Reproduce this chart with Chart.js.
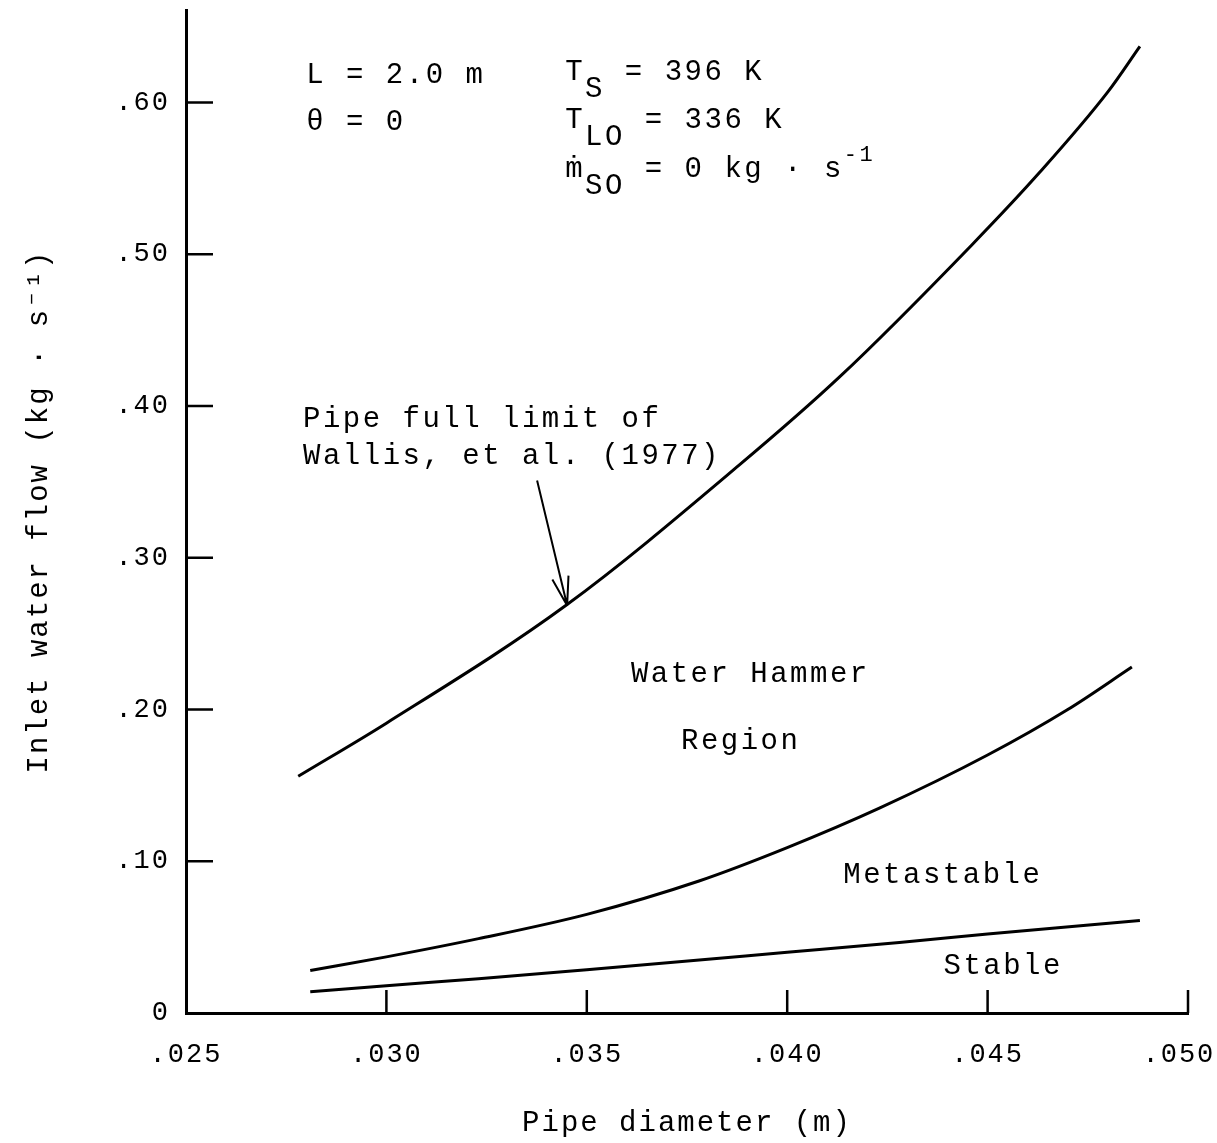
<!DOCTYPE html>
<html>
<head>
<meta charset="utf-8">
<script src="https://cdn.jsdelivr.net/npm/chart.js@4.4.1/dist/chart.umd.min.js"></script>
<style>
  html, body { margin: 0; padding: 0; background: #fff; }
</style>
</head>
<body>
<canvas id="chart" width="1217" height="1143"></canvas>
<script>
// Pipe full limit of Wallis et al. (1977)
var fullDiam = [0.0278, 0.0300, 0.0345, 0.0388, 0.0413, 0.0446, 0.0463, 0.0480, 0.0488];
var fullFlow = [0.156, 0.191, 0.269, 0.361, 0.419, 0.506, 0.554, 0.607, 0.637];

// Water hammer / metastable boundary
var metaDiam = [0.0281, 0.0300, 0.0323, 0.0350, 0.0378, 0.0400, 0.0423, 0.0450, 0.0470, 0.0486];
var metaFlow = [0.028, 0.037, 0.049, 0.065, 0.087, 0.109, 0.135, 0.170, 0.200, 0.228];

// Metastable / stable boundary
var stableDiam = [0.0281, 0.0300, 0.0323, 0.0350, 0.0400, 0.0428, 0.0450, 0.0488];
var stableFlow = [0.014, 0.018, 0.0225, 0.0285, 0.040, 0.0465, 0.052, 0.061];

// tick values
var xTicks = [0.025, 0.030, 0.035, 0.040, 0.045, 0.050];
var yTicks = [0, 0.10, 0.20, 0.30, 0.40, 0.50, 0.60];

// text notes: [text, shift] with 1 = subscript, -1 = superscript
var notes = [
    { parts: [['L = 2.0 m', 0]], d: 0.0280, f: 0.618 },
    { parts: [['\u03B8 = 0', 0]], d: 0.0280, f: 0.587 },
    { parts: [['T', 0], ['S', 1], [' = 396 K', 0]], d: 0.03446, f: 0.620 },
    { parts: [['T', 0], ['LO', 1], [' = 336 K', 0]], d: 0.03446, f: 0.588 },
    { parts: [['\u1E41', 0], ['SO', 1], [' = 0 kg \u00B7 s', 0], ['-1', -1]], d: 0.03446, f: 0.556 },
    { parts: [['Pipe full limit of', 0]], d: 0.02792, f: 0.391 },
    { parts: [['Wallis, et al. (1977)', 0]], d: 0.02792, f: 0.367 },
    { parts: [['Water Hammer', 0]], d: 0.03610, f: 0.223 },
    { parts: [['Region', 0]], d: 0.03735, f: 0.179 },
    { parts: [['Metastable', 0]], d: 0.04140, f: 0.091 },
    { parts: [['Stable', 0]], d: 0.04390, f: 0.031 }
];
var arrowFrom = [0.03376, 0.351];
var arrowTo = [0.03451, 0.2685];

var FONT = "'Liberation Mono', 'DejaVu Sans Mono', monospace";

function toPoints(xs, ys) {
    var pts = [];
    for (var i = 0; i < xs.length; i++) pts.push({ x: xs[i], y: ys[i] });
    return pts;
}

function curve(label, xs, ys) {
    return {
        label: label,
        data: toPoints(xs, ys),
        showLine: true,
        borderColor: '#000',
        borderWidth: 3,
        pointRadius: 0,
        cubicInterpolationMode: 'monotone',
        fill: false
    };
}

// inward tick marks, typewriter spacing, notes and arrow
var paperPlugin = {
    id: 'paper',
    beforeDraw: function (chart) {
        chart.ctx.letterSpacing = '2px';
    },
    afterDraw: function (chart) {
        var ctx = chart.ctx;
        var xs = chart.scales.x, ys = chart.scales.y, area = chart.chartArea;

        ctx.save();
        ctx.strokeStyle = '#000';
        ctx.lineWidth = 2.5;
        ctx.beginPath();
        xTicks.forEach(function (v) {
            if (v === xs.min) return;
            var px = xs.getPixelForValue(v);
            ctx.moveTo(px, area.bottom);
            ctx.lineTo(px, area.bottom - 23);
        });
        yTicks.forEach(function (v) {
            if (v === 0) return;
            var py = ys.getPixelForValue(v);
            ctx.moveTo(area.left, py);
            ctx.lineTo(area.left + 27, py);
        });
        ctx.stroke();

        // notes
        ctx.fillStyle = '#000';
        ctx.textBaseline = 'middle';
        ctx.textAlign = 'left';
        ctx.letterSpacing = '2.5px';
        notes.forEach(function (n) {
            var x = xs.getPixelForValue(n.d);
            var y = ys.getPixelForValue(n.f);
            n.parts.forEach(function (p) {
                var dy = 0;
                if (p[1] === 1) { ctx.font = '29px ' + FONT; dy = 17; }
                else if (p[1] === -1) { ctx.font = '22px ' + FONT; dy = -14; }
                else ctx.font = '29px ' + FONT;
                ctx.fillText(p[0], x, y + dy);
                x += ctx.measureText(p[0]).width;
            });
        });

        // arrow to the pipe full curve
        var x0 = xs.getPixelForValue(arrowFrom[0]), y0 = ys.getPixelForValue(arrowFrom[1]);
        var x1 = xs.getPixelForValue(arrowTo[0]), y1 = ys.getPixelForValue(arrowTo[1]);
        var ang = Math.atan2(y1 - y0, x1 - x0);
        ctx.lineWidth = 2;
        ctx.beginPath();
        ctx.moveTo(x0, y0);
        ctx.lineTo(x1, y1);
        [-0.28, 0.28].forEach(function (a) {
            ctx.moveTo(x1, y1);
            ctx.lineTo(x1 - 30 * Math.cos(ang + a), y1 - 30 * Math.sin(ang + a));
        });
        ctx.stroke();
        ctx.restore();
    }
};

Chart.defaults.font.family = FONT;
Chart.defaults.color = '#000';

var ctx = document.getElementById('chart').getContext('2d');
var myChart = new Chart(ctx, {
    type: 'scatter',
    data: {
        datasets: [
            curve('Pipe full limit', fullDiam, fullFlow),
            curve('Water hammer boundary', metaDiam, metaFlow),
            curve('Stable boundary', stableDiam, stableFlow)
        ]
    },
    options: {
        responsive: false,
        animation: false,
        devicePixelRatio: 1,
        layout: { padding: { top: 10, right: 29, left: 0, bottom: 0 } },
        plugins: {
            legend: { display: false },
            tooltip: { enabled: false },
            title: { display: false }
        },
        scales: {
            x: {
                type: 'linear',
                min: 0.025,
                max: 0.050,
                afterFit: function (s) {
                    s.height = 130;
                    s.paddingLeft = 0;
                    s.paddingRight = 0;
                },
                afterBuildTicks: function (s) {
                    s.ticks = xTicks.map(function (v) { return { value: v }; });
                },
                grid: { display: false, drawTicks: false },
                border: { display: true, color: '#000', width: 3 },
                ticks: {
                    padding: 26,
                    font: { size: 27 },
                    callback: function (v, i, all) {
                        var s = '.' + Math.round(v * 1000).toString().padStart(3, '0');
                        // last label sits a little left of its tick, as on the original
                        return i === all.length - 1 ? s + ' ' : s;
                    }
                },
                title: {
                    display: true,
                    text: 'Pipe diameter (m)',
                    font: { size: 29 },
                    padding: { top: 0, bottom: 2 }
                }
            },
            y: {
                type: 'linear',
                min: 0,
                max: 0.661,
                afterFit: function (s) {
                    s.width = 186;
                    s.paddingTop = 0;
                    s.paddingBottom = 0;
                },
                afterBuildTicks: function (s) {
                    s.ticks = yTicks.map(function (v) { return { value: v }; });
                },
                grid: { display: false, drawTicks: false },
                border: { display: true, color: '#000', width: 3 },
                ticks: {
                    padding: 16,
                    font: { size: 27 },
                    callback: function (v) {
                        if (v === 0) return '0';
                        return '.' + Math.round(v * 100).toString().padStart(2, '0');
                    }
                },
                title: {
                    display: true,
                    text: 'Inlet water flow (kg \u00B7 s\u207B\u00B9)',
                    font: { size: 29 },
                    padding: { top: 22, bottom: 0 }
                }
            }
        }
    },
    plugins: [paperPlugin]
});
</script>
</body>
</html>
